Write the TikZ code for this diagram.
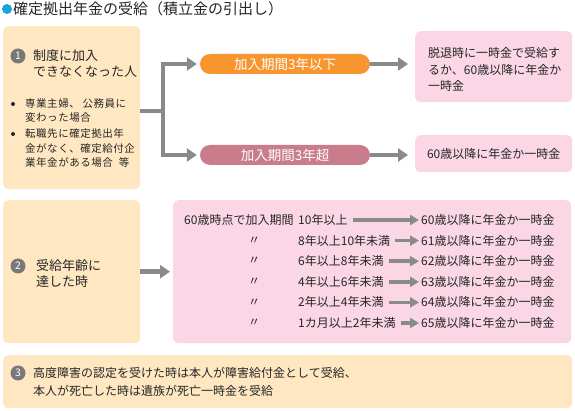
\documentclass[tikz,border=0pt]{standalone}
\usepackage{fontspec}
\setmainfont{Noto Sans CJK JP}
\usetikzlibrary{arrows.meta}

\definecolor{boxorange}{HTML}{FFE7C2}
\definecolor{boxpink}{HTML}{FBD7E6}
\definecolor{pillorange}{HTML}{F7962F}
\definecolor{pillrose}{HTML}{C97D8C}
\definecolor{arrowgray}{HTML}{8A8A8A}
\definecolor{numgray}{HTML}{787878}
\definecolor{dotblue}{HTML}{1BA1DC}
\definecolor{inkgray}{HTML}{262626}

\newcommand\bodyfont{\fontsize{12}{16.5}\selectfont}
\newcommand\headfont{\fontsize{13}{16}\selectfont}
\newcommand\smallfont{\fontsize{10.5}{14.5}\selectfont\addfontfeatures{LetterSpace=5}}

\tikzset{
  panel/.style={fill=boxorange, rounded corners=5pt, anchor=north west, inner sep=0pt},
  note/.style={fill=boxpink, rounded corners=5pt, anchor=north west, inner sep=0pt},
  pill/.style={rounded corners=10pt, minimum width=170pt, minimum height=20pt,
    inner sep=0pt, text=white, font=\fontsize{13.5}{13.5}\selectfont},
  num/.style={circle, fill=numgray, text=white, minimum size=15pt, inner sep=0pt,
    font=\fontsize{10.5}{10.5}\selectfont},
  txt/.style={anchor=west, inner sep=0pt, align=left, text=inkgray, font=\bodyfont},
  bullet/.style={circle, fill=inkgray, minimum size=4pt, inner sep=0pt},
  fatarrow/.style={draw=arrowgray, line width=4.5pt, -{Triangle[length=10pt,width=13pt]}},
  rowarrow/.style={draw=arrowgray, line width=3.5pt, -{Triangle[length=9pt,width=10pt]}},
}

\begin{document}
\begin{tikzpicture}[x=1pt,y=-1pt]
\useasboundingbox[fill=white] (0,0) rectangle (575,411);

% title
\fill[dotblue] (7,9) circle (5);
\node[txt, font=\fontsize{15}{15}\selectfont] (title) at (13,9) {確定拠出年金の受給（積立金の引出し）};

% panels
\node[panel, minimum width=137pt, minimum height=163pt] (box1) at (3,26) {};
\node[panel, minimum width=137pt, minimum height=143pt] (box2) at (3,200) {};
\node[panel, minimum width=569pt, minimum height=53pt] (box3) at (3,355) {};

% case 1
\node[num] (n1) at (18,56) {1};
\node[txt, font=\headfont] (head1) at (33,64) {制度に加入\\できなくなった人};
\node[bullet] (b1) at (13,104) {};
\node[txt, font=\smallfont] (item1) at (25,110.5) {専業主婦、 公務員に\\変わった場合};
\node[bullet] (b2) at (13,134) {};
\node[txt, font=\smallfont] (item2) at (25,148.5) {転職先に確定拠出年\\金がなく、確定給付企\\業年金がある場合\hspace{6pt}等};

\node[pill, fill=pillorange] (short) at (285,64) {加入期間3年以下};
\node[pill, fill=pillrose] (long) at (285,155) {加入期間3年超};

\node[note, minimum width=157pt, minimum height=71pt] (out1) at (415,31) {};
\node[txt] (out1txt) at (428,69.5) {脱退時に一時金で受給す\\るか、60歳以降に年金か\\一時金};
\node[note, minimum width=157pt, minimum height=37pt] (out2) at (415,135) {};
\node[txt, anchor=center] (out2txt) at (out2.center) {60歳以降に年金か一時金};

\coordinate (fork) at (163,111);
\draw[draw=arrowgray, line width=4.5pt] (box1.east |- fork) -- (fork);
\draw[fatarrow, shorten >=3pt] (fork) |- (short.west);
\draw[fatarrow, shorten >=3pt] (fork) |- (long.west);
\draw[fatarrow, shorten >=7pt] (short.east) -- (short.east -| out1.west);
\draw[fatarrow, shorten >=7pt] (long.east) -- (long.east -| out2.west);

% case 2
\node[num] (n2) at (18,266) {2};
\node[txt, font=\headfont] (head2) at (36,273.5) {受給年齢に\\達した時};
\node[note, minimum width=398pt, minimum height=143pt] (table) at (173,200) {};
\draw[fatarrow, shorten >=3pt] (box2.east) -- (box2.east -| table.west);

\node[txt] (lab1) at (184,220) {60歳時点で加入期間};
\foreach \cond/\age [count=\i] in {10年以上/60, 8年以上10年未満/61, 6年以上8年未満/62,
    4年以上6年未満/63, 2年以上4年未満/64, 1カ月以上2年未満/65} {
  \node[txt] (cond\i) at (298,{220+20.6*(\i-1)}) {\cond};
  \node[txt] (res\i) at (421,{220+20.6*(\i-1)}) {\age 歳以降に年金か一時金};
  \draw[rowarrow, shorten <=5pt, shorten >=2pt] (cond\i.east) -- (res\i.west);
  \ifnum\i>1 \node[txt] (ditto\i) at (248,{220+20.6*(\i-1)}) {〃}; \fi
}

% case 3
\node[num] (n3) at (18,373) {3};
\node[txt, font=\fontsize{12}{18}\selectfont] (text3) at (33,382)
  {高度障害の認定を受けた時は本人が障害給付金として受給、\\本人が死亡した時は遺族が死亡一時金を受給};
\end{tikzpicture}
\end{document}
